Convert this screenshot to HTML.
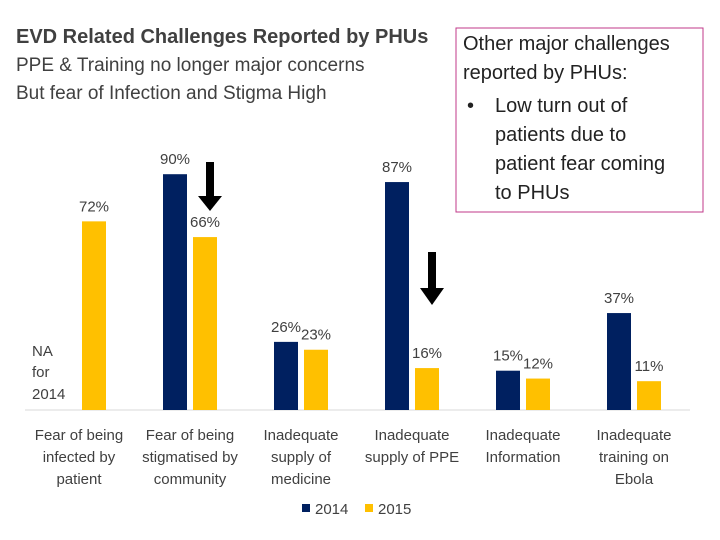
<!DOCTYPE html>
<html><head><meta charset="utf-8"><style>
body{margin:0;background:#fff;}
svg{display:block;font-family:"Liberation Sans",sans-serif;}
</style></head><body>
<svg id="c" width="720" height="540">
<text x="16" y="43" font-size="20" font-weight="bold" fill="#404040">EVD Related Challenges Reported by PHUs</text>
<text x="16" y="71" font-size="19" fill="#404040">PPE &amp; Training no longer major concerns</text>
<text x="16" y="99" font-size="19" fill="#404040">But fear of Infection and Stigma High</text>
<g>
<rect x="456" y="28" width="247" height="184" fill="#fff" stroke="#c0398a" stroke-width="1"/>
<text font-size="20" fill="#222">
<tspan x="463" y="50">Other major challenges</tspan>
<tspan x="463" y="79">reported by PHUs:</tspan>
<tspan x="467" y="112">•</tspan><tspan x="495" y="112">Low turn out of</tspan>
<tspan x="495" y="141">patients due to</tspan>
<tspan x="495" y="170">patient fear coming</tspan>
<tspan x="495" y="199">to PHUs</tspan>
</text></g>
<g id="plot"></g>
<g><rect x="206" y="162" width="8" height="36" fill="#000"/><polygon points="198,196 222,196 210,211" fill="#000"/></g>
<g><rect x="428" y="252" width="8" height="38" fill="#000"/><polygon points="420,288 444,288 432,305" fill="#000"/></g>
<text font-size="15" fill="#404040"><tspan x="32" y="356">NA</tspan><tspan x="32" y="377">for</tspan><tspan x="32" y="399">2014</tspan></text>
<g>
<rect x="302" y="504" width="8" height="8" fill="#002060"/>
<text x="315" y="514" font-size="15" fill="#404040">2014</text>
<rect x="365" y="504" width="8" height="8" fill="#ffc000"/>
<text x="378" y="514" font-size="15" fill="#404040">2015</text>
</g>
</svg>
<script>
const categories=[["Fear of being","infected by","patient"],["Fear of being","stigmatised by","community"],["Inadequate","supply of","medicine"],["Inadequate","supply of PPE"],["Inadequate","Information"],["Inadequate","training on","Ebola"]];
const values2014=[null,90,26,87,15,37];
const values2015=[72,66,23,16,12,11];
const NS="http://www.w3.org/2000/svg";
const g=document.getElementById('plot');
const base=410,scale=2.62;
function y(v){return base-v*scale;}
function cx(i){return 190+(i-1)*111;}
function el(t,a){const e=document.createElementNS(NS,t);for(const k in a)e.setAttribute(k,a[k]);g.appendChild(e);return e;}
const ax=el('line',{x1:25,x2:690,y1:base,y2:base,stroke:'#d9d9d9','stroke-width':1});


function bar(i,v,off,col,yr){
  if(v==null)return;
  const x=cx(i)+off;
  const r=el('rect',{x:x,y:y(v),width:24,height:v*scale,fill:col});
  
  
  const t=el('text',{x:x+12,y:y(v)-10,'font-size':15,fill:'#404040','text-anchor':'middle'});
  t.textContent=v+'%';
  
  
}
categories.forEach((c,i)=>{
  bar(i,values2014[i],-27,'#002060','2014');
  bar(i,values2015[i],3,'#ffc000','2015');
  const t=el('text',{x:cx(i),y:440,'font-size':15,fill:'#404040','text-anchor':'middle'});
  
  
  c.forEach((l,j)=>{const s=document.createElementNS(NS,'tspan');s.setAttribute('x',cx(i));s.setAttribute('dy',j?22:0);s.textContent=l;t.appendChild(s);});
});
</script>
</body></html>
